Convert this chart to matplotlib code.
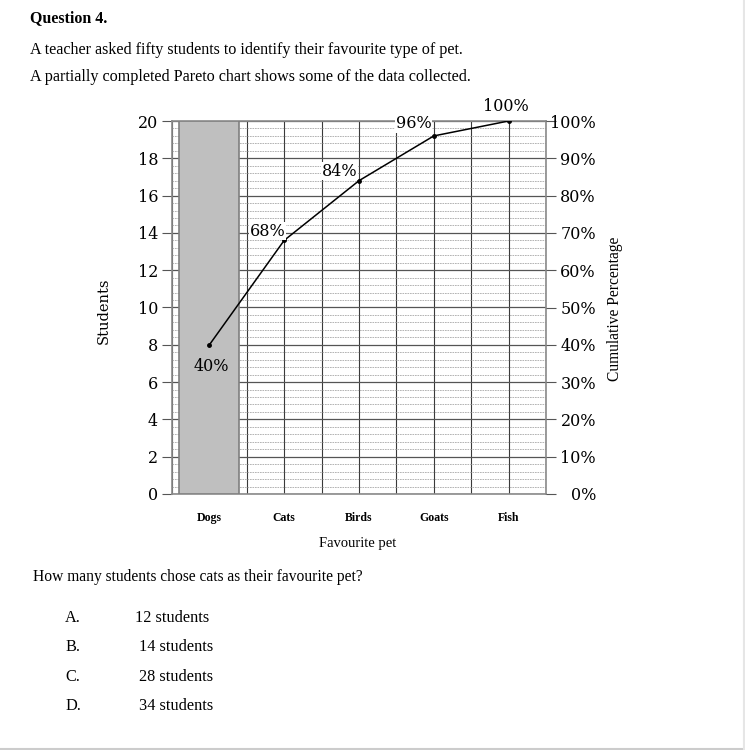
import numpy as np
import matplotlib.pyplot as plt

pets = ['Dogs', 'Cats', 'Birds', 'Goats', 'Fish']
dog_students = [20]
cumulative_pct = [40, 68, 84, 96, 100]
pct_labels = ['40%', '68%', '84%', '96%', '100%']
left_ticks = [0, 2, 4, 6, 8, 10, 12, 14, 16, 18, 20]
right_ticks = [0, 10, 20, 30, 40, 50, 60, 70, 80, 90, 100]
options = ['A.', 'B.', 'C.', 'D.']
answers = ['12 students', '14 students', '28 students', '34 students']

W, H = 745, 750
plt.rcParams['font.family'] = ['Liberation Serif', 'DejaVu Serif']

fig = plt.figure(figsize=(W / 100, H / 100), dpi=100)

def ftext(x, y, s, **kw):
    # place text by pixel coordinates measured from the top-left
    fig.text(x / W, 1 - y / H, s, **kw)

ftext(30, 18, 'Question 4.', fontsize=11.5, fontweight='bold', va='center')
ftext(30, 50, 'A teacher asked fifty students to identify their favourite type of pet.', fontsize=11.6, va='center')
ftext(30, 77, 'A partially completed Pareto chart shows some of the data collected.', fontsize=11.6, va='center')
ftext(33, 577, 'How many students chose cats as their favourite pet?', fontsize=11.2, va='center')
for i, (o, a) in enumerate(zip(options, answers)):
    y = 618 + i * 29.3
    ftext(65, y, o, fontsize=11.7, va='center')
    ftext(135 if i == 0 else 139, y, a, fontsize=11.7, va='center')

ax = fig.add_axes([172 / W, 1 - 494 / H, (546 - 172) / W, (494 - 121) / H])
x = np.arange(len(pets))

ax.bar(x[:len(dog_students)], dog_students, width=0.8, color='#bfbfbf',
       edgecolor='#7f7f7f', linewidth=1.2, zorder=3)

ax.set_xlim(-0.5, len(pets) - 0.5)
ax.set_ylim(0, 20)
ax.set_xticks(x)
ax.set_xticklabels(pets, fontsize=8.5, fontweight='bold')
ax.set_xticks(np.arange(-0.5, len(pets), 1.0), minor=True)
ax.set_yticks(left_ticks)
ax.set_yticklabels([str(t) for t in left_ticks], family=['DejaVu Serif'])
ax.set_yticks(np.arange(0, 20.01, 0.4), minor=True)
ax.tick_params(axis='x', which='both', length=0, pad=13)
ax.tick_params(axis='y', which='major', length=7, color='#555555', labelsize=11.5, pad=3)
ax.tick_params(axis='y', which='minor', length=0)

ax.grid(True, axis='x', which='both', color='#3a3a3a', linewidth=0.8, zorder=0)
ax.grid(True, axis='y', which='minor', color='#a8a8a8', linewidth=0.6, linestyle=(0, (2, 1)), zorder=0)
ax.grid(True, axis='y', which='major', color='#555555', linewidth=0.9, zorder=0)
ax.set_axisbelow(True)
for s in ax.spines.values():
    s.set_color('#8a8a8a')
    s.set_linewidth(1.2)

ax2 = ax.twinx()
ax2.set_ylim(0, 100)
ax2.set_yticks(right_ticks)
ax2.set_yticklabels([f'{t}%' for t in right_ticks], ha='right', family=['DejaVu Serif'])
ax2.tick_params(axis='y', length=7, color='#555555', labelsize=11.5, pad=29)
for s in ax2.spines.values():
    s.set_visible(False)

ax2.plot(x, cumulative_pct, color='black', linewidth=1.1, marker='o', markersize=2.5, zorder=5)

label_offsets = [(0.02, -5.7), (-0.22, 2.5), (-0.26, 2.5), (-0.27, 3.2), (-0.04, 3.8)]
for xi, yi, lab, (dx, dy) in zip(x, cumulative_pct, pct_labels, label_offsets):
    box = None if xi == 0 else dict(facecolor='white', edgecolor='none', pad=0.5)
    ax2.text(xi + dx, yi + dy, lab, fontsize=11.5, ha='center', va='center',
             bbox=box, zorder=6, family=['DejaVu Serif'])

ftext(104, 311, 'Students', fontsize=10.5, rotation=90, va='center', ha='center',
      family=['DejaVu Serif'])
ftext(615, 309, 'Cumulative Percentage', fontsize=11.2, rotation=90, va='center', ha='center')
ftext(358, 544, 'Favourite pet', fontsize=10.5, va='center', ha='center')

# thin page border at the bottom and right
fig.add_artist(plt.Line2D([0, 1], [1.5 / H, 1.5 / H], color='#cccccc', linewidth=1.5))
fig.add_artist(plt.Line2D([1 - 1.5 / W, 1 - 1.5 / W], [0, 1], color='#e6e6e6', linewidth=1.5))

fig.savefig('out.png', dpi=100)
